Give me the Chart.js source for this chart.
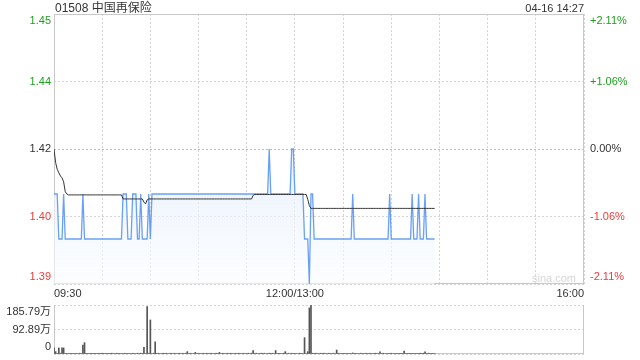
<!DOCTYPE html>
<html lang="zh">
  <head>
    <meta charset="UTF-8" />
    <title>01508 中国再保险</title>
    <style>
      body {
        margin: 0;
        background: #fff;
        font-family: "Liberation Sans", Arial, "Noto Sans CJK SC", sans-serif;
        color: #333;
      }
      #wrap {
        position: relative;
        width: 640px;
        height: 360px;
        overflow: hidden;
      }
      .title {
        position: absolute;
        left: 55px;
        top: 1px;
        font-size: 12px;
        line-height: 14px;
      }
      .stamp {
        position: absolute;
        right: 56px;
        top: 2px;
        font-size: 11px;
        line-height: 13px;
      }
      .mark {
        position: absolute;
        left: 532px;
        top: 272px;
        font-size: 11px;
        color: #d6d6d6;
      }
      #priceChart {
        position: absolute;
        left: 0;
        top: 0;
      }
      #volChart {
        position: absolute;
        left: 0;
        top: 300px;
      }
    </style>
  </head>
  <body>
    <div id="wrap">
      <canvas id="priceChart" width="640" height="300"></canvas>
      <canvas id="volChart" width="640" height="60"></canvas>
      <div class="title">01508 中国再保险</div>
      <div class="stamp">04-16 14:27</div>
      <div class="mark">sina.com</div>
    </div>

    <script src="https://cdn.jsdelivr.net/npm/chart.js"></script>
    <script>
      // x axis: minutes from 09:30 (lunch break squeezed out), 330 = 16:00
      const timeTicks = [0, 30, 60, 90, 120, 150, 180, 210, 240, 270, 300, 330];
      const timeLabels = ["09:30", "", "", "", "", "12:00/13:00", "", "", "", "", "", "16:00"];

      const prevClose = 1.42;
      const priceTicks = [1.39, 1.405, 1.42, 1.435, 1.45];
      const priceLabels = ["1.39", "1.40", "1.42", "1.44", "1.45"];
      const pctLabels = ["-2.11%", "-1.06%", "0.00%", "+1.06%", "+2.11%"];

      const volTicks = [0, 92.89, 185.79];
      const volLabels = ["0", "92.89万", "185.79万"];

      // one value per minute, 09:30 .. 14:27
      const price = [
        1.41, 1.41, 1.41, 1.40, 1.40, 1.40, 1.41, 1.40, 1.40, 1.40,
        1.40, 1.40, 1.40, 1.40, 1.40, 1.40, 1.40, 1.40, 1.41, 1.40,
        1.40, 1.40, 1.40, 1.40, 1.40, 1.40, 1.40, 1.40, 1.40, 1.40,
        1.40, 1.40, 1.40, 1.40, 1.40, 1.40, 1.40, 1.40, 1.40, 1.40,
        1.40, 1.40, 1.40, 1.41, 1.41, 1.41, 1.40, 1.40, 1.40, 1.41,
        1.41, 1.41, 1.40, 1.40, 1.41, 1.40, 1.40, 1.40, 1.40, 1.41,
        1.40, 1.41, 1.41, 1.41, 1.41, 1.41, 1.41, 1.41, 1.41, 1.41,
        1.41, 1.41, 1.41, 1.41, 1.41, 1.41, 1.41, 1.41, 1.41, 1.41,
        1.41, 1.41, 1.41, 1.41, 1.41, 1.41, 1.41, 1.41, 1.41, 1.41,
        1.41, 1.41, 1.41, 1.41, 1.41, 1.41, 1.41, 1.41, 1.41, 1.41,
        1.41, 1.41, 1.41, 1.41, 1.41, 1.41, 1.41, 1.41, 1.41, 1.41,
        1.41, 1.41, 1.41, 1.41, 1.41, 1.41, 1.41, 1.41, 1.41, 1.41,
        1.41, 1.41, 1.41, 1.41, 1.41, 1.41, 1.41, 1.41, 1.41, 1.41,
        1.41, 1.41, 1.41, 1.41, 1.42, 1.41, 1.41, 1.41, 1.41, 1.41,
        1.41, 1.41, 1.41, 1.41, 1.41, 1.41, 1.41, 1.41, 1.42, 1.42,
        1.41, 1.41, 1.41, 1.41, 1.41, 1.41, 1.40, 1.40, 1.40, 1.39,
        1.41, 1.41, 1.40, 1.40, 1.40, 1.40, 1.40, 1.40, 1.40, 1.40,
        1.40, 1.40, 1.40, 1.40, 1.40, 1.40, 1.40, 1.40, 1.40, 1.40,
        1.40, 1.40, 1.40, 1.40, 1.40, 1.40, 1.41, 1.40, 1.40, 1.40,
        1.40, 1.40, 1.40, 1.40, 1.40, 1.40, 1.40, 1.40, 1.40, 1.40,
        1.40, 1.40, 1.40, 1.40, 1.40, 1.40, 1.40, 1.40, 1.40, 1.41,
        1.40, 1.40, 1.40, 1.40, 1.40, 1.40, 1.40, 1.40, 1.40, 1.40,
        1.40, 1.40, 1.40, 1.41, 1.40, 1.40, 1.40, 1.41, 1.40, 1.40,
        1.40, 1.41, 1.40, 1.40, 1.40, 1.40, 1.40, 1.40
      ];

      const avgPrice = [
        1.42, 1.417, 1.4155, 1.4147, 1.414, 1.4136, 1.4127, 1.4105, 1.41, 1.4098,
        1.4098, 1.4098, 1.4098, 1.4098, 1.4098, 1.4098, 1.4098, 1.4098, 1.4098, 1.4098,
        1.4098, 1.4098, 1.4098, 1.4098, 1.4098, 1.4098, 1.4098, 1.4098, 1.4098, 1.4098,
        1.4098, 1.4098, 1.4098, 1.4098, 1.4098, 1.4098, 1.4098, 1.4098, 1.4098, 1.4098,
        1.4098, 1.4098, 1.4098, 1.4089, 1.4089, 1.4089, 1.4089, 1.4089, 1.4089, 1.4089,
        1.4089, 1.4089, 1.4089, 1.4089, 1.4089, 1.4089, 1.4082, 1.4078, 1.4087, 1.4089,
        1.4089, 1.4089, 1.4089, 1.4089, 1.4089, 1.4089, 1.4089, 1.4089, 1.4089, 1.4089,
        1.4089, 1.4089, 1.4089, 1.4089, 1.4089, 1.4089, 1.4089, 1.4089, 1.4089, 1.4089,
        1.4089, 1.4089, 1.4089, 1.4089, 1.4089, 1.4089, 1.4089, 1.4089, 1.4089, 1.4089,
        1.4089, 1.4089, 1.4089, 1.4089, 1.4089, 1.4089, 1.4089, 1.4089, 1.4089, 1.4089,
        1.4089, 1.4089, 1.4089, 1.4089, 1.4089, 1.4089, 1.4089, 1.4089, 1.4089, 1.4089,
        1.4089, 1.4089, 1.4089, 1.4089, 1.4089, 1.4089, 1.4089, 1.4089, 1.4089, 1.4089,
        1.4089, 1.4089, 1.4089, 1.4089, 1.4097, 1.4099, 1.4099, 1.4099, 1.4099, 1.4099,
        1.4099, 1.4099, 1.4099, 1.4099, 1.4099, 1.4099, 1.4099, 1.4099, 1.4099, 1.4099,
        1.4099, 1.4099, 1.4099, 1.4099, 1.4099, 1.4099, 1.4099, 1.4099, 1.4099, 1.4099,
        1.4099, 1.4099, 1.4099, 1.4099, 1.4099, 1.4099, 1.4099, 1.4099, 1.4088, 1.4074,
        1.4068, 1.4068, 1.4068, 1.4068, 1.4068, 1.4068, 1.4068, 1.4068, 1.4068, 1.4068,
        1.4068, 1.4068, 1.4068, 1.4068, 1.4068, 1.4068, 1.4068, 1.4068, 1.4068, 1.4068,
        1.4068, 1.4068, 1.4068, 1.4068, 1.4068, 1.4068, 1.4068, 1.4068, 1.4068, 1.4068,
        1.4068, 1.4068, 1.4068, 1.4068, 1.4068, 1.4068, 1.4068, 1.4068, 1.4068, 1.4068,
        1.4068, 1.4068, 1.4068, 1.4068, 1.4068, 1.4068, 1.4068, 1.4068, 1.4068, 1.4068,
        1.4068, 1.4068, 1.4068, 1.4068, 1.4068, 1.4068, 1.4068, 1.4068, 1.4068, 1.4068,
        1.4068, 1.4068, 1.4068, 1.4068, 1.4068, 1.4068, 1.4068, 1.4068, 1.4068, 1.4068,
        1.4068, 1.4068, 1.4068, 1.4068, 1.4068, 1.4068, 1.4068, 1.4068
      ];

      // volume per minute, in 万 shares
      const volume = [
        23, 9, 2, 23, 3, 23, 23, 2, 3, 2,
        3, 2, 2, 3, 2, 2, 3, 2, 34, 43,
        3, 2, 2, 3, 2, 3, 2, 2, 3, 2,
        3, 2, 2, 3, 2, 2, 3, 2, 2, 3,
        2, 3, 2, 2, 3, 2, 3, 2, 2, 3,
        2, 2, 3, 2, 3, 2, 25, 2, 180, 3,
        129, 2, 3, 46, 2, 3, 2, 2, 3, 2,
        3, 2, 2, 3, 2, 3, 2, 2, 3, 2,
        3, 2, 3, 9, 2, 3, 2, 2, 6, 2,
        3, 2, 2, 3, 2, 3, 2, 2, 3, 2,
        2, 3, 2, 6, 2, 3, 2, 2, 3, 2,
        3, 2, 2, 3, 2, 3, 2, 2, 3, 2,
        2, 3, 2, 3, 13, 2, 3, 2, 2, 3,
        2, 3, 2, 2, 3, 2, 3, 2, 13, 2,
        3, 2, 2, 3, 9, 2, 3, 2, 3, 2,
        3, 2, 2, 3, 2, 2, 62, 2, 9, 175,
        185.79, 3, 2, 3, 2, 2, 3, 2, 3, 2,
        2, 3, 2, 2, 3, 2, 15, 3, 2, 2,
        3, 2, 2, 3, 2, 2, 4, 2, 3, 2,
        2, 3, 2, 2, 3, 2, 2, 3, 2, 2,
        3, 2, 2, 8, 2, 3, 2, 2, 3, 2,
        3, 2, 2, 3, 2, 2, 3, 2, 11, 2,
        2, 3, 2, 3, 2, 2, 3, 2, 3, 2,
        3, 8, 2, 3, 2, 2, 3, 2
      ];

      const GREEN = "#1e9e1e";
      const RED = "#f03a3a";
      const GRID = "#d4d4d4";
      const FRAME = "#c8c8c8";

      Chart.defaults.font.family = '"Liberation Sans", Arial, "Noto Sans CJK SC", sans-serif';
      Chart.defaults.font.size = 11;
      Chart.defaults.color = "#333";

      function priceColor(v) {
        if (v > prevClose + 1e-9) return GREEN;
        if (v < prevClose - 1e-9) return RED;
        return "#333";
      }

      // push the end labels inside the plot like the original
      function edgeLabel(text, index, count) {
        if (index === 0) return [text, ""];
        if (index === count - 1) return ["", text];
        return text;
      }

      // fixed axis size, no extra room for overhanging labels
      function fixSize(w, h) {
        return (scale) => {
          if (w != null) scale.width = w;
          if (h != null) scale.height = h;
          scale.paddingTop = 0;
          scale.paddingBottom = 0;
          scale.paddingLeft = 0;
          scale.paddingRight = 0;
        };
      }

      // solid frame around the plot area
      const framePlugin = {
        id: "frame",
        beforeDatasetsDraw(chart, args, opts) {
          const { ctx, chartArea: a } = chart;
          ctx.save();
          ctx.strokeStyle = FRAME;
          ctx.lineWidth = 1;
          ctx.beginPath();
          if (opts.top) {
            ctx.moveTo(a.left, a.top + 0.5);
            ctx.lineTo(a.right, a.top + 0.5);
          }
          ctx.moveTo(a.left + 0.5, a.top);
          ctx.lineTo(a.left + 0.5, a.bottom);
          ctx.moveTo(a.right - 0.5, a.top);
          ctx.lineTo(a.right - 0.5, a.bottom);
          ctx.moveTo(a.left, a.bottom - 0.5);
          ctx.lineTo(a.right, a.bottom - 0.5);
          ctx.stroke();
          ctx.restore();
        },
      };

      const pricePoints = price.map((v, i) => ({ x: i, y: v }));
      const avgPoints = avgPrice.map((v, i) => ({ x: i, y: v }));

      const priceChart = new Chart(document.getElementById("priceChart"), {
        type: "line",
        data: {
          datasets: [
            {
              label: "均价",
              data: avgPoints,
              borderColor: "#333",
              borderWidth: 1,
              pointRadius: 0,
              fill: false,
              order: 0,
            },
            {
              label: "价格",
              data: pricePoints,
              borderColor: "rgba(80, 145, 242, 0.85)",
              borderWidth: 1.3,
              pointRadius: 0,
              fill: "start",
              backgroundColor: (ctx) => {
                const a = ctx.chart.chartArea;
                if (!a) return "rgba(230,240,253,0.6)";
                const g = ctx.chart.ctx.createLinearGradient(0, a.top + 130, 0, a.bottom);
                g.addColorStop(0, "rgba(225, 236, 252, 0.75)");
                g.addColorStop(1, "rgba(250, 252, 255, 0.6)");
                return g;
              },
              order: 1,
            },
          ],
        },
        options: {
          responsive: false,
          animation: false,
          layout: { padding: { top: 14, left: 0, right: 0, bottom: 0 } },
          plugins: {
            legend: { display: false },
            tooltip: { enabled: false },
            frame: { top: true },
          },
          scales: {
            x: {
              type: "linear",
              min: 0,
              max: 330,
              afterBuildTicks: (scale) => {
                scale.ticks = timeTicks.map((v) => ({ value: v }));
              },
              afterFit: fixSize(null, 16),
              ticks: {
                autoSkip: false,
                maxRotation: 0,
                align: "inner",
                padding: 3,
                color: "#333",
                callback: (v) => timeLabels[timeTicks.indexOf(v)],
              },
              grid: { color: GRID, drawTicks: false },
              border: { display: false, dash: [2, 2] },
            },
            y: {
              position: "left",
              min: priceTicks[0],
              max: priceTicks[priceTicks.length - 1],
              afterBuildTicks: (scale) => {
                scale.ticks = priceTicks.map((v) => ({ value: v }));
              },
              afterFit: fixSize(54, null),
              ticks: {
                autoSkip: false,
                padding: 3,
                color: (ctx) => priceColor(ctx.tick.value),
                callback: (v, i) => edgeLabel(priceLabels[i], i, priceLabels.length),
              },
              grid: {
                color: (ctx) => (ctx.tick && ctx.tick.value === prevClose ? "#bdbdbd" : GRID),
                drawTicks: false,
              },
              border: { display: false, dash: [2, 2] },
            },
            yPct: {
              position: "right",
              min: priceTicks[0],
              max: priceTicks[priceTicks.length - 1],
              afterBuildTicks: (scale) => {
                scale.ticks = priceTicks.map((v) => ({ value: v }));
              },
              afterFit: fixSize(56, null),
              ticks: {
                autoSkip: false,
                padding: 6,
                color: (ctx) => priceColor(ctx.tick.value),
                callback: (v, i) => edgeLabel(pctLabels[i], i, pctLabels.length),
              },
              grid: { display: false, drawTicks: false },
              border: { display: false },
            },
          },
        },
        plugins: [framePlugin],
      });

      const volPoints = volume.map((v, i) => ({ x: i, y: v }));

      const volChart = new Chart(document.getElementById("volChart"), {
        type: "bar",
        data: {
          datasets: [
            {
              label: "成交量",
              data: volPoints,
              backgroundColor: "#555",
              barThickness: 1,
            },
          ],
        },
        options: {
          responsive: false,
          animation: false,
          layout: { padding: { top: 5, left: 0, right: 56, bottom: 6 } },
          plugins: {
            legend: { display: false },
            tooltip: { enabled: false },
            frame: { top: false },
          },
          scales: {
            x: {
              type: "linear",
              min: 0,
              max: 330,
              offset: false,
              display: false,
              grid: { offset: false },
            },
            y: {
              position: "left",
              min: volTicks[0],
              max: volTicks[volTicks.length - 1],
              afterBuildTicks: (scale) => {
                scale.ticks = volTicks.map((v) => ({ value: v }));
              },
              afterFit: fixSize(54, null),
              ticks: {
                autoSkip: false,
                padding: 3,
                color: "#333",
                callback: (v, i) => edgeLabel(volLabels[i], i, volLabels.length),
              },
              grid: { color: GRID, drawTicks: false },
              border: { display: false, dash: [2, 2] },
            },
          },
        },
        plugins: [framePlugin],
      });
    </script>
  </body>
</html>
